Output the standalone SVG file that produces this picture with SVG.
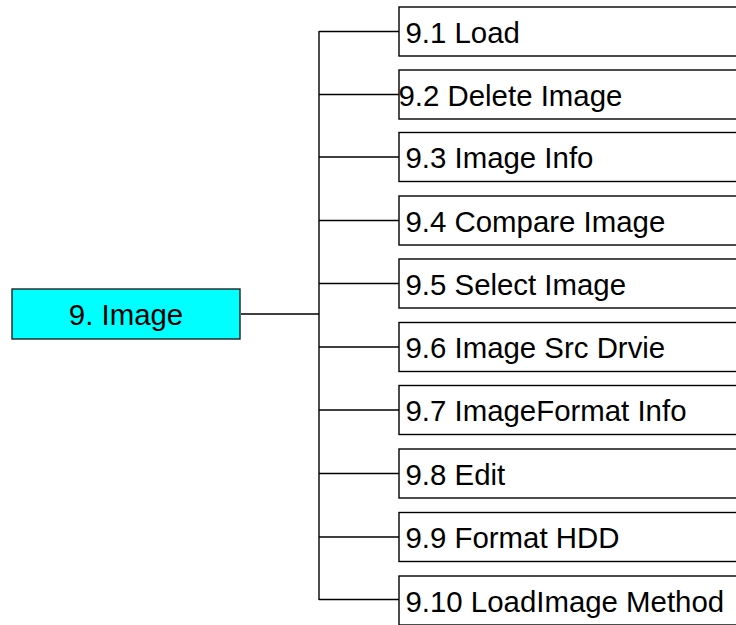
<svg xmlns="http://www.w3.org/2000/svg" width="736" height="625" viewBox="0 0 736 625">
<style>
.box{fill:#ffffff;stroke:#000000;stroke-width:1.4}
.root{fill:#00ffff;stroke:#222222;stroke-width:1.4}
.lbl{font-family:"Liberation Sans",Arial,sans-serif;font-size:29.4px;fill:#000000}
.con{fill:none;stroke:#000000;stroke-width:1.4}
</style>
<rect width="736" height="625" fill="#ffffff"/>
<g id="connectors">
<line class="con" x1="241" y1="314" x2="319" y2="314" stroke-width="2.2"/>
<line class="con" x1="319" y1="31" x2="319" y2="600" stroke-width="1.6"/>
<line class="con" x1="319" y1="31.5" x2="399" y2="31.5"/>
<line class="con" x1="319" y1="94.5" x2="399" y2="94.5"/>
<line class="con" x1="319" y1="157" x2="399" y2="157"/>
<line class="con" x1="319" y1="220.5" x2="399" y2="220.5"/>
<line class="con" x1="319" y1="283.5" x2="399" y2="283.5"/>
<line class="con" x1="319" y1="347" x2="399" y2="347"/>
<line class="con" x1="319" y1="410" x2="399" y2="410"/>
<line class="con" x1="319" y1="473.5" x2="399" y2="473.5"/>
<line class="con" x1="319" y1="537" x2="399" y2="537"/>
<line class="con" x1="319" y1="599.5" x2="399" y2="599.5"/>
</g>
<g id="n9">
<rect class="root" x="12" y="289" width="228" height="50"/>
<text class="lbl" x="126" y="324.5" text-anchor="middle">9. Image</text>
</g>
<g id="n9_1">
<rect class="box" x="399" y="7" width="340" height="49"/>
<text class="lbl" x="405.5" y="43.3">9.1 Load</text>
</g>
<g id="n9_2">
<rect class="box" x="399" y="70" width="340" height="49"/>
<text class="lbl" x="398.5" y="106.3">9.2 Delete Image</text>
</g>
<g id="n9_3">
<rect class="box" x="399" y="132.5" width="340" height="49"/>
<text class="lbl" x="405.5" y="168">9.3 Image Info</text>
</g>
<g id="n9_4">
<rect class="box" x="399" y="196" width="340" height="49"/>
<text class="lbl" x="405.5" y="231.5">9.4 Compare Image</text>
</g>
<g id="n9_5">
<rect class="box" x="399" y="259" width="340" height="49"/>
<text class="lbl" x="405.5" y="294.5">9.5 Select Image</text>
</g>
<g id="n9_6">
<rect class="box" x="399" y="322.5" width="340" height="49"/>
<text class="lbl" x="405.5" y="358">9.6 Image Src Drvie</text>
</g>
<g id="n9_7">
<rect class="box" x="399" y="385.5" width="340" height="49"/>
<text class="lbl" x="405.5" y="421">9.7 ImageFormat Info</text>
</g>
<g id="n9_8">
<rect class="box" x="399" y="449" width="340" height="49"/>
<text class="lbl" x="405.5" y="484.5">9.8 Edit</text>
</g>
<g id="n9_9">
<rect class="box" x="399" y="512.5" width="340" height="49"/>
<text class="lbl" x="405.5" y="548">9.9 Format HDD</text>
</g>
<g id="n9_10">
<rect class="box" x="399" y="576" width="340" height="49"/>
<text class="lbl" x="405.5" y="611.5">9.10 LoadImage Method</text>
</g>
</svg>
